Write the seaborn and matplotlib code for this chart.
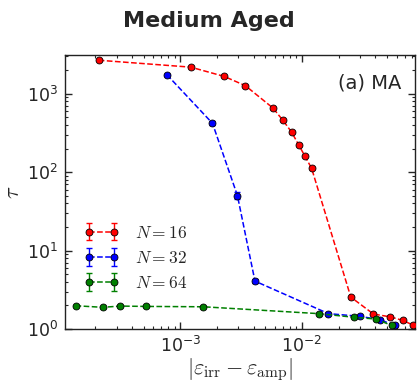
import numpy as np
import pandas as pd
import matplotlib
matplotlib.use("Agg")
import matplotlib.pyplot as plt
import seaborn as sns
from matplotlib.container import ErrorbarContainer

# ---- data ----
x16 = [2.14e-4, 1.22e-3, 2.30e-3, 3.43e-3, 5.78e-3, 6.98e-3, 8.22e-3, 9.38e-3,
       1.06e-2, 1.20e-2, 2.52e-2, 3.87e-2, 5.29e-2, 6.71e-2, 8.2e-2]
y16 = [2670, 2180, 1660, 1265, 656, 457, 324, 224, 159, 112, 2.55, 1.55, 1.43, 1.29, 1.12]
e16 = [60, 50, 40, 30, 15, 10, 8, 6, 4, 3, 0.08, 0.04, 0.03, 0.03, 0.02]

x32 = [7.77e-4, 1.84e-3, 2.95e-3, 4.11e-3, 1.65e-2, 3.00e-2, 4.39e-2, 5.80e-2]
y32 = [1745, 419, 50.2, 4.08, 1.57, 1.45, 1.31, 1.11]
e32 = [50, 25, 5.0, 0.25, 0.04, 0.03, 0.03, 0.02]

x64 = [1.38e-4, 2.30e-4, 3.22e-4, 5.20e-4, 1.55e-3, 1.37e-2, 2.69e-2, 4.04e-2, 5.46e-2]
y64 = [1.98, 1.89, 1.96, 1.94, 1.92, 1.57, 1.41, 1.34, 1.11]
e64 = [0.04, 0.04, 0.04, 0.04, 0.04, 0.03, 0.03, 0.03, 0.02]

labels = [r"$N=16$", r"$N=32$", r"$N=64$"]
colors = ["#ff0000", "#0000ff", "#008000"]
title = "Medium Aged"
panel = "(a) MA"

sns.set_style("ticks")
plt.rcParams["mathtext.fontset"] = "cm"
plt.rcParams["font.family"] = ["DejaVu Sans"]

fig = plt.figure(figsize=(4.18, 3.83), dpi=100)
ax = fig.add_axes([0.1555, 0.141, 0.8375, 0.715])

handles = []
for xs, ys, es, lab, c in zip([x16, x32, x64], [y16, y32, y64], [e16, e32, e64], labels, colors):
    df = pd.DataFrame({"x": xs, "y": ys})
    sns.lineplot(data=df, x="x", y="y", ax=ax, color=c, linestyle="--", linewidth=1.1,
                 marker="o", markersize=5, markeredgecolor="k", markeredgewidth=0.6,
                 legend=False, zorder=3)
    line = ax.get_lines()[-1]
    eb = ax.errorbar(xs, ys, yerr=es, fmt="none", ecolor=c, elinewidth=1.0, capsize=2, zorder=2)
    h = ErrorbarContainer((line, eb.lines[1], eb.lines[2]), has_xerr=False, has_yerr=True, label=lab)
    handles.append(h)

ax.set_xscale("log")
ax.set_yscale("log")
ax.set_xlim(1.13e-4, 0.085)
ax.set_ylim(1.0, 3100)

ax.tick_params(which="both", direction="in", top=True, right=True, labelsize=12.5, pad=5)
ax.tick_params(which="major", length=5, width=1)
ax.tick_params(which="minor", length=2.5, width=0.8)
for s in ax.spines.values():
    s.set_linewidth(1.0)
    s.set_color("#222222")

ax.set_xlabel(r"$|\varepsilon_{\rm irr}-\varepsilon_{\rm amp}|$", fontsize=16, labelpad=0)
ax.set_ylabel(r"$\tau$", fontsize=16)
ax.yaxis.set_label_coords(-0.12, 0.5)
fig.suptitle(title, fontsize=16, fontweight="bold", x=0.5, y=0.97)
ax.text(0.96, 0.9, panel, transform=ax.transAxes, ha="right", va="center", fontsize=14)

ax.legend(handles=handles, loc="lower left", bbox_to_anchor=(0.02, 0.09), frameon=False,
          numpoints=2, fontsize=12.5, handlelength=2.0, borderaxespad=0.3, labelspacing=0.42,
          handletextpad=0.9)

fig.savefig("out.png", dpi=100)
